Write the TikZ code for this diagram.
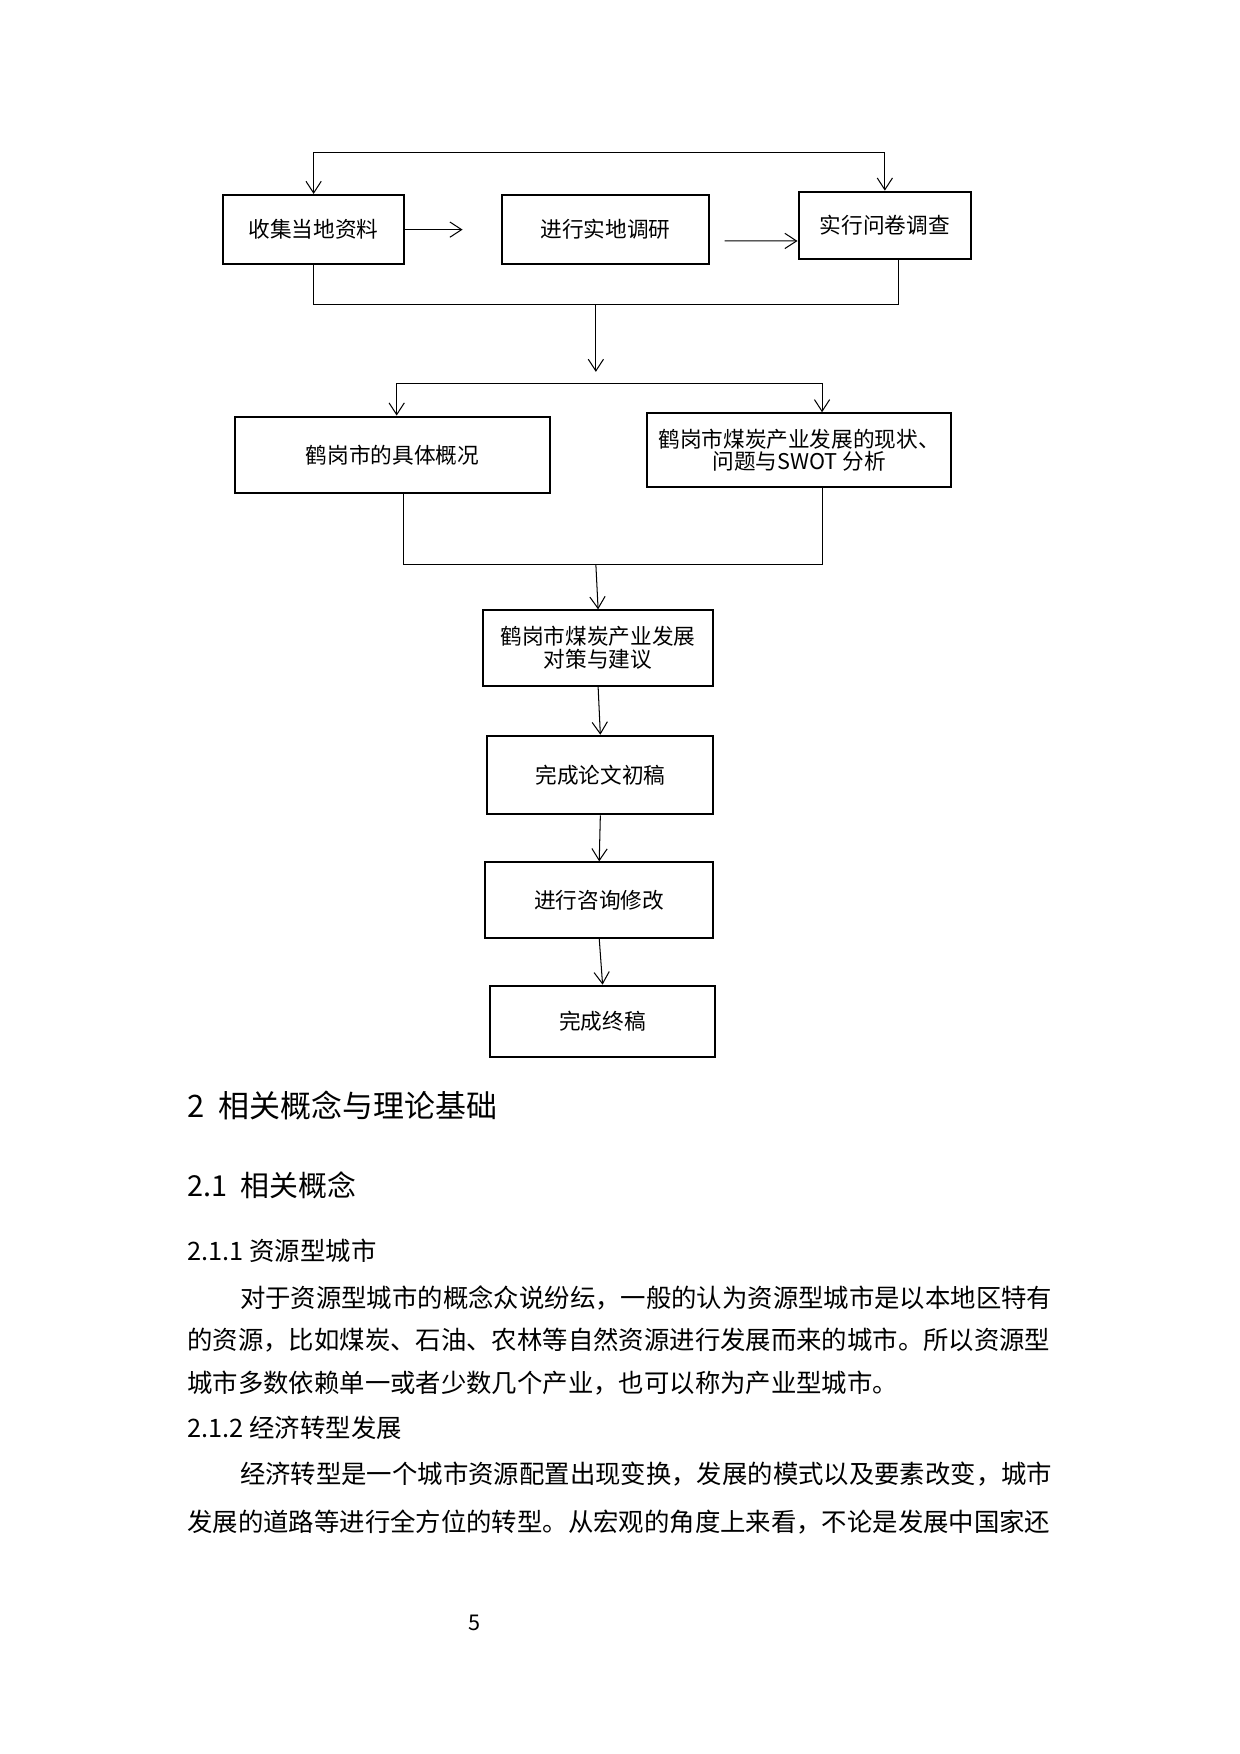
\documentclass[tikz,border=0pt]{standalone}
\usepackage{fontspec}
\setmainfont{Noto Sans CJK SC}
\usetikzlibrary{arrows.meta}

\begin{document}
\begin{tikzpicture}[x=0.1908mm,y=-0.1908mm,%
  box/.style={draw,line width=1pt,inner sep=0pt,align=center,
    font=\fontsize{10.5}{11}\selectfont},
  link/.style={line width=0.5pt},
  tip/.tip={Straight Barb[length=2mm,width=2.6mm]},
  arr/.style={link,-tip},
  txt/.style={anchor=west,inner sep=0pt,font=\fontsize{12.3}{14}\selectfont}]
  \useasboundingbox (1,1) rectangle (1108,1567);
  % first row
  \node[box,minimum width=30.9mm,minimum height=11.8mm] (collect) at (281,206) {收集当地资料};
  \node[box,minimum width=35.3mm,minimum height=11.8mm] (research) at (541.5,206) {进行实地调研};
  \node[box,minimum width=29.4mm,minimum height=11.4mm] (survey) at (791,202) {实行问卷调查};
  % second row
  \node[box,minimum width=53.6mm,minimum height=13mm] (status) at (351.5,407) {鹤岗市的具体概况};
  \node[box,minimum width=51.7mm,minimum height=12.6mm] (swot) at (714.5,403)
    {鹤岗市煤炭产业发展的现状、\\问题与SWOT 分析};
  % column
  \node[box,minimum width=39.3mm,minimum height=12.8mm] (plan) at (535,579.5)
    {鹤岗市煤炭产业发展\\对策与建议};
  \node[box,minimum width=38.5mm,minimum height=13.4mm] (draft) at (537,693) {完成论文初稿};
  \node[box,minimum width=38.9mm,minimum height=12.8mm] (revise) at (536,804.5) {进行咨询修改};
  \node[box,minimum width=38.2mm,minimum height=12.2mm] (final) at (539,913) {完成终稿};

  \coordinate (loop) at (540,137);
  \coordinate (m1) at (533,273);
  \coordinate (s1) at (545,343);
  \coordinate (m2) at (533,505);
  \draw[link,tip-tip] (collect.north) |- (loop) -| (survey.north);
  \draw[arr,shorten >=6.5mm] (collect.east) -- (research.west);
  \draw[arr] ([shift={(2.5mm,-1.9mm)}]research.east) -- ([yshift=-2.7mm]survey.west);
  \draw[link] (collect.south) |- (m1) -| ([xshift=2.3mm]survey.south);
  \draw[arr] (m1) -- ++(0,60);
  \draw[arr] (s1) -| ([xshift=0.7mm]status.north);
  \draw[arr] (s1) -| ([xshift=3.9mm]swot.north);
  \draw[link] ([xshift=1.8mm]status.south) |- (m2) -| ([xshift=3.9mm]swot.south);
  \draw[arr] (m2) -- (plan.north);
  \draw[arr] (plan.south) -- (draft.north);
  \draw[arr] (draft.south) -- (revise.north);
  \draw[arr] (revise.south) -- (final.north);

  % text below
  \node[txt,font=\fontsize{15}{18}\selectfont] (ch2) at (168,988) {2\ \ 相关概念与理论基础};
  \node[txt,font=\fontsize{14}{17}\selectfont] (sec21) at (168,1059) {2.1\ \ 相关概念};
  \node[txt] (sec211) at (168,1118) {2.1.1\ 资源型城市};
  \node[txt] (p1a) at (215,1160) {对于资源型城市的概念众说纷纭，一般的认为资源型城市是以本地区特有};
  \node[txt] (p1b) at (168,1197) {的资源，比如煤炭、石油、农林等自然资源进行发展而来的城市。所以资源型};
  \node[txt] (p1c) at (168,1236) {城市多数依赖单一或者少数几个产业，也可以称为产业型城市。};
  \node[txt] (sec212) at (168,1276) {2.1.2\ 经济转型发展};
  \node[txt] (p2a) at (215,1317) {经济转型是一个城市资源配置出现变换，发展的模式以及要素改变，城市};
  \node[txt] (p2b) at (168,1360) {发展的道路等进行全方位的转型。从宏观的角度上来看，不论是发展中国家还};
  \node[font=\fontsize{10.5}{12}\selectfont] (page) at (425,1450) {5};
\end{tikzpicture}
\end{document}
